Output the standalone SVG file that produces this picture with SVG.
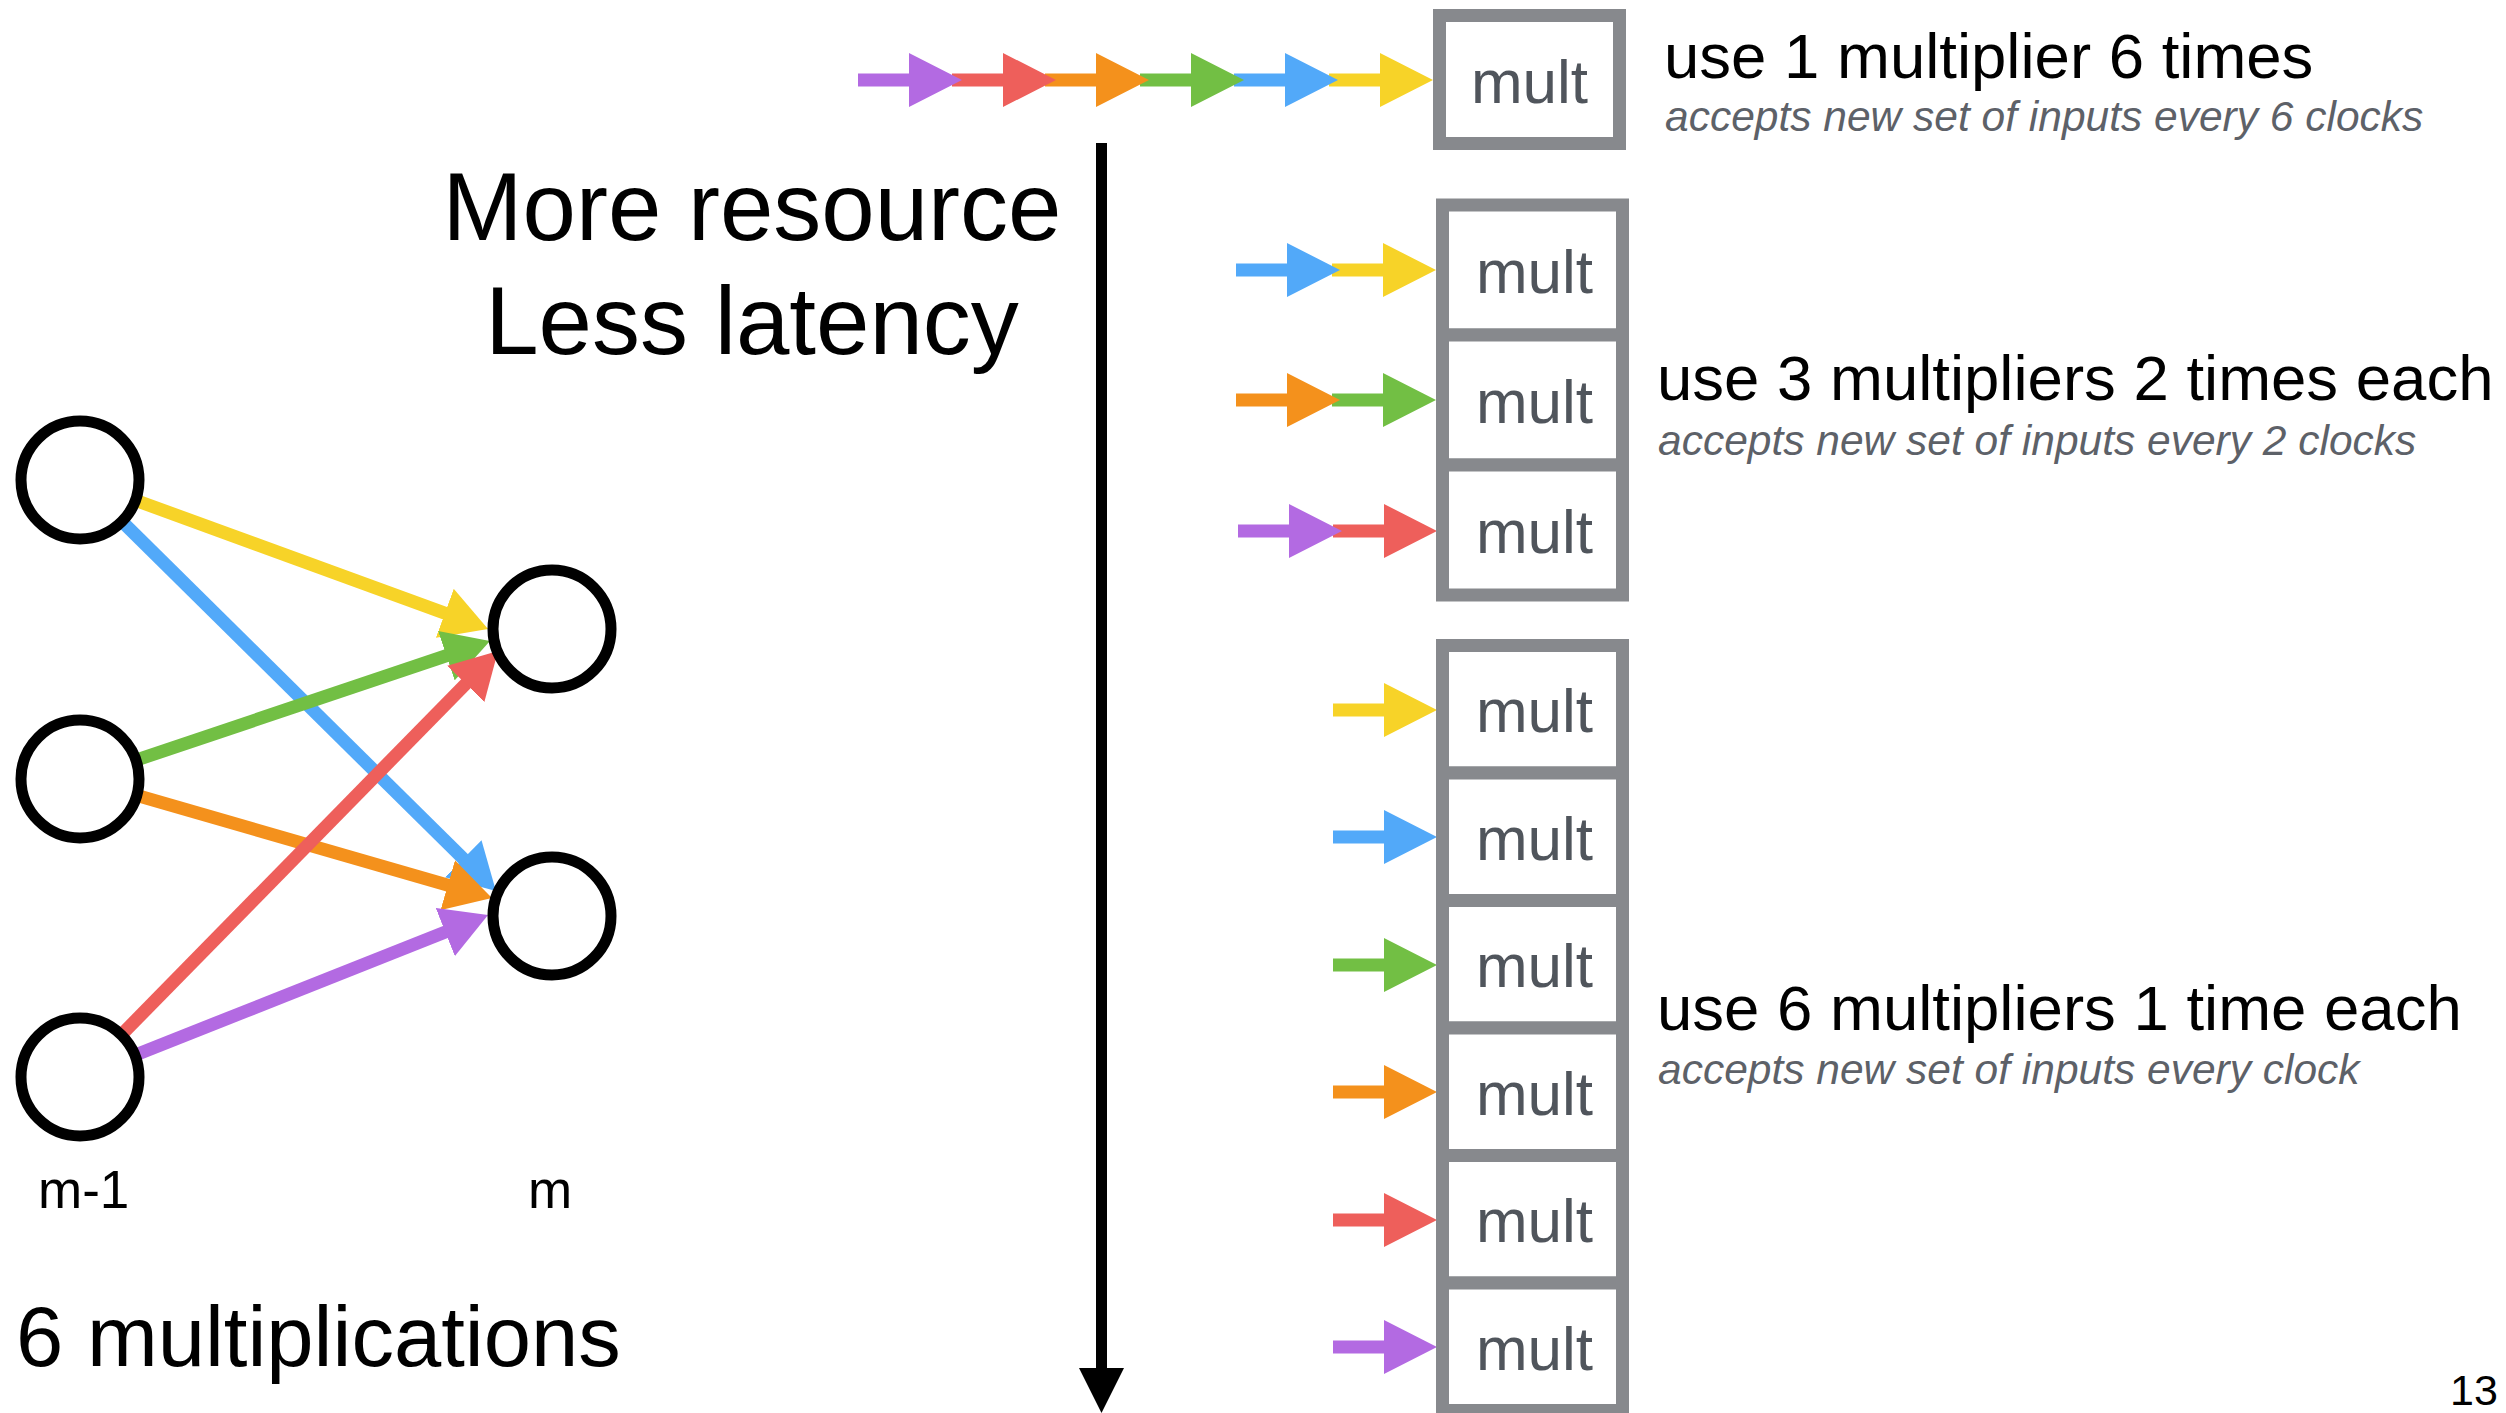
<svg xmlns="http://www.w3.org/2000/svg" xmlns:xlink="http://www.w3.org/1999/xlink" width="2506" height="1413" viewBox="0 0 2506 1413">
<style>
.t{font-family:"Liberation Sans",Arial,Helvetica,sans-serif;fill:#000}
.sub{font-family:"Liberation Sans",Arial,Helvetica,sans-serif;font-style:italic;font-size:42.5px;fill:#5d6168}
.cell rect{fill:#fff;stroke:#87898d;stroke-width:13}
.cell text{font-family:"Liberation Sans",Arial,Helvetica,sans-serif;font-size:62px;fill:#50555c;text-anchor:middle}
.node circle{fill:#fff;stroke:#000;stroke-width:11}
.e{stroke-width:13;fill:none}
</style>
<defs>
<path id="arr" d="M0,-6.5 H51 V-27 L104,0 L51,27 V6.5 H0 Z"/>
<marker id="hY" viewBox="0 0 46 52" refX="32" refY="26" markerWidth="46" markerHeight="52" markerUnits="userSpaceOnUse" orient="auto"><path d="M0,0 L46,26 L0,52 Z" fill="#f7d328"/></marker>
<marker id="hB" viewBox="0 0 46 52" refX="32" refY="26" markerWidth="46" markerHeight="52" markerUnits="userSpaceOnUse" orient="auto"><path d="M0,0 L46,26 L0,52 Z" fill="#52a9f9"/></marker>
<marker id="hG" viewBox="0 0 46 52" refX="32" refY="26" markerWidth="46" markerHeight="52" markerUnits="userSpaceOnUse" orient="auto"><path d="M0,0 L46,26 L0,52 Z" fill="#72bf44"/></marker>
<marker id="hO" viewBox="0 0 46 52" refX="32" refY="26" markerWidth="46" markerHeight="52" markerUnits="userSpaceOnUse" orient="auto"><path d="M0,0 L46,26 L0,52 Z" fill="#f4911c"/></marker>
<marker id="hR" viewBox="0 0 46 52" refX="32" refY="26" markerWidth="46" markerHeight="52" markerUnits="userSpaceOnUse" orient="auto"><path d="M0,0 L46,26 L0,52 Z" fill="#ee5f5b"/></marker>
<marker id="hP" viewBox="0 0 46 52" refX="32" refY="26" markerWidth="46" markerHeight="52" markerUnits="userSpaceOnUse" orient="auto"><path d="M0,0 L46,26 L0,52 Z" fill="#b36ae2"/></marker>
</defs>
<rect width="2506" height="1413" fill="#fff"/>

<g id="connectors">
<line class="e" x1="80" y1="480" x2="474.9" y2="624.2" stroke="#f7d328" marker-end="url(#hY)"/>
<line class="e" x1="80" y1="480" x2="486.0" y2="881.2" stroke="#52a9f9" marker-end="url(#hB)"/>
<line class="e" x1="80" y1="779" x2="476.7" y2="645.5" stroke="#72bf44" marker-end="url(#hG)"/>
<line class="e" x1="80" y1="779" x2="478.5" y2="894.1" stroke="#f4911c" marker-end="url(#hO)"/>
<line class="e" x1="80" y1="1077" x2="488.2" y2="661.0" stroke="#ee5f5b" marker-end="url(#hR)"/>
<line class="e" x1="80" y1="1077" x2="475.0" y2="920.2" stroke="#b36ae2" marker-end="url(#hP)"/>

<g id="chain-top">
<use xlink:href="#arr" href="#arr" x="1329" y="80" fill="#f7d328"/>
<use xlink:href="#arr" href="#arr" x="1234" y="80" fill="#52a9f9"/>
<use xlink:href="#arr" href="#arr" x="1140" y="80" fill="#72bf44"/>
<use xlink:href="#arr" href="#arr" x="1045" y="80" fill="#f4911c"/>
<use xlink:href="#arr" href="#arr" x="952" y="80" fill="#ee5f5b"/>
<use xlink:href="#arr" href="#arr" x="858" y="80" fill="#b36ae2"/>
</g>
<g id="chain-mid">
<use xlink:href="#arr" href="#arr" x="1332" y="270" fill="#f7d328"/>
<use xlink:href="#arr" href="#arr" x="1236" y="270" fill="#52a9f9"/>
<use xlink:href="#arr" href="#arr" x="1332" y="400" fill="#72bf44"/>
<use xlink:href="#arr" href="#arr" x="1236" y="400" fill="#f4911c"/>
<use xlink:href="#arr" href="#arr" x="1333" y="531" fill="#ee5f5b"/>
<use xlink:href="#arr" href="#arr" x="1238" y="531" fill="#b36ae2"/>
</g>
<g id="chain-bottom">
<use xlink:href="#arr" href="#arr" x="1333" y="710" fill="#f7d328"/>
<use xlink:href="#arr" href="#arr" x="1333" y="837" fill="#52a9f9"/>
<use xlink:href="#arr" href="#arr" x="1333" y="965" fill="#72bf44"/>
<use xlink:href="#arr" href="#arr" x="1333" y="1092" fill="#f4911c"/>
<use xlink:href="#arr" href="#arr" x="1333" y="1220" fill="#ee5f5b"/>
<use xlink:href="#arr" href="#arr" x="1333" y="1347" fill="#b36ae2"/>
</g>
<g id="axis">
<line x1="1101.5" y1="143" x2="1101.5" y2="1372" stroke="#000" stroke-width="11"/>
<polygon points="1079,1368 1124,1368 1101.5,1413" fill="#000"/>
</g>
</g>

<g id="node-a1" class="node"><circle cx="80" cy="480" r="59"/></g>
<g id="node-a2" class="node"><circle cx="80" cy="779" r="59"/></g>
<g id="node-a3" class="node"><circle cx="80" cy="1077" r="59"/></g>
<g id="node-b1" class="node"><circle cx="552" cy="629" r="59"/></g>
<g id="node-b2" class="node"><circle cx="552" cy="916" r="59"/></g>

<g id="mult-1x" class="cell"><rect x="1439.5" y="15.5" width="180" height="128"/><text x="1529.5" y="103">mult</text></g>

<g id="mult-3a" class="cell"><rect x="1442.5" y="205" width="180" height="130"/><text x="1534.5" y="293">mult</text></g>
<g id="mult-3b" class="cell"><rect x="1442.5" y="335" width="180" height="130"/><text x="1534.5" y="423">mult</text></g>
<g id="mult-3c" class="cell"><rect x="1442.5" y="465" width="180" height="130"/><text x="1534.5" y="553">mult</text></g>

<g id="mult-6a" class="cell"><rect x="1442.5" y="645.5" width="180" height="127.5"/><text x="1534.5" y="732">mult</text></g>
<g id="mult-6b" class="cell"><rect x="1442.5" y="773" width="180" height="127.5"/><text x="1534.5" y="860">mult</text></g>
<g id="mult-6c" class="cell"><rect x="1442.5" y="900.5" width="180" height="127.5"/><text x="1534.5" y="987">mult</text></g>
<g id="mult-6d" class="cell"><rect x="1442.5" y="1028" width="180" height="127.5"/><text x="1534.5" y="1115">mult</text></g>
<g id="mult-6e" class="cell"><rect x="1442.5" y="1155.5" width="180" height="127.5"/><text x="1534.5" y="1242">mult</text></g>
<g id="mult-6f" class="cell"><rect x="1442.5" y="1283" width="180" height="127.5"/><text x="1534.5" y="1370">mult</text></g>

<g id="labels">
<text class="t" x="752" y="240" font-size="96" text-anchor="middle">More resource</text>
<text class="t" x="752" y="354" font-size="96" text-anchor="middle">Less latency</text>
<text class="t" x="38" y="1208" font-size="53">m-1</text>
<text class="t" x="550" y="1208" font-size="53" text-anchor="middle">m</text>
<text class="t" x="16" y="1366" font-size="85">6 multiplications</text>
<text class="t" x="1664" y="78" font-size="63.5">use 1 multiplier 6 times</text>
<text class="sub" x="1665" y="131">accepts new set of inputs every 6 clocks</text>
<text class="t" x="1657" y="400" font-size="63.5">use 3 multipliers 2 times each</text>
<text class="sub" x="1658" y="455">accepts new set of inputs every 2 clocks</text>
<text class="t" x="1657" y="1030" font-size="63.5">use 6 multipliers 1 time each</text>
<text class="sub" x="1658" y="1084">accepts new set of inputs every clock</text>
<text class="t" x="2450" y="1405" font-size="43" fill="#222">13</text>
</g>
</svg>
